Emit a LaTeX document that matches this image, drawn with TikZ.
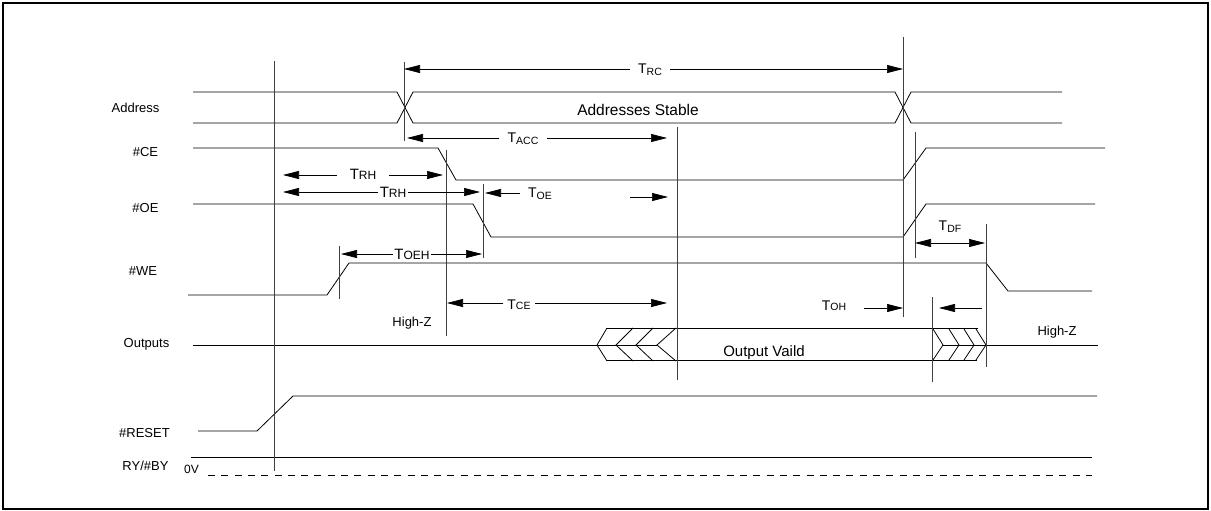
\documentclass[tikz,border=0pt]{standalone}
\usepackage{fontspec}
\setmainfont{Liberation Sans}
\usetikzlibrary{arrows.meta}
\newcommand{\tsb}[1]{{\fontsize{14}{16}\selectfont T}\raisebox{-2pt}{\fontsize{10.5}{12}\selectfont #1}}
\newcommand{\tsc}[1]{{\fontsize{14}{16}\selectfont T}{\fontsize{10.5}{12}\selectfont #1}}
\newcommand{\tbig}[1]{{\fontsize{15}{17}\selectfont T}{\fontsize{12}{14}\selectfont #1}}

\begin{document}
\begin{tikzpicture}[x=1pt, y=-1pt,
    sig/.style={line width=0.8pt},
    vline/.style={line width=0.8pt, black!75},
    dimarr/.style={line width=0.7pt, -{Triangle[length=16pt,width=8pt]}},
    dimboth/.style={line width=0.7pt, {Triangle[length=16pt,width=8pt]}-{Triangle[length=16pt,width=8pt]}},
    lbl/.style={font=\fontsize{13}{15}\selectfont, inner sep=0pt, anchor=base},
    tlbl/.style={font=\fontsize{13}{15}\selectfont, inner ysep=0pt, inner xsep=#1},
  ]
  \useasboundingbox (0,0) rectangle (1211,511);
  \draw[line width=2pt] (3,3) rectangle (1208,509);

  % signal names
  \node[lbl] (nAddr)  at (135.5,112) {Address};
  \node[lbl] (nCE)    at (145.5,156) {\#CE};
  \node[lbl] (nOE)    at (145.5,212) {\#OE};
  \node[lbl] (nWE)    at (143,275)   {\#WE};
  \node[lbl] (nOut)   at (146.5,347) {Outputs};
  \node[lbl] (nReset) at (144.5,437) {\#RESET};
  \node[lbl] (nRyBy)  at (145.5,470) {RY/\#BY};
  \node[lbl, font=\fontsize{12}{14}\selectfont] (nZero) at (191.5,473) {0V};

  % waveforms
  \draw[sig] (193,92) -- (397,92) -- (413,123) -- (895,123) -- (911,92) -- (1062,92);
  \draw[sig] (193,123) -- (397,123) -- (413,92) -- (895,92) -- (911,123) -- (1062,123);
  \draw[sig] (193,148) -- (438,148) -- (456,180) -- (903,180) -- (926,148) -- (1105,148);
  \draw[sig] (193,204) -- (473,204) -- (491,237) -- (903,237) -- (926,204) -- (1095,204);
  \draw[sig] (188,295) -- (327,295) -- (349,263) -- (986,263) -- (1008,291) -- (1092,291);
  \draw[sig] (193,345) -- (657,345);
  \draw[sig] (943,345) -- (1098,345);
  \draw[sig] (606,328) -- (978,328);
  \draw[sig] (607,360) -- (977,360);
  \foreach \x/\w in {597/10, 616/17, 636/17, 657/19}
    \draw[sig] (\x+\w,328) -- (\x,345) -- (\x+\w,361);
  \foreach \x in {943,959,974,986}
    \draw[sig] (\x-10,329) -- (\x,345) -- (\x-10,360);
  \draw[sig] (198,431) -- (257,431) -- (293,396) -- (1097,396);
  \draw[sig] (191,457) -- (1092,457);
  \draw[sig, dash pattern=on 7pt off 6.3pt] (208,475) -- (1092,475);

  \node[lbl, font=\fontsize{15.5}{18}\selectfont] (stable) at (638,115) {Addresses Stable};
  \node[lbl, font=\fontsize{15}{18}\selectfont] (valid) at (764,356) {Output Vaild};
  \node[lbl] (hiz1) at (412,326) {High-Z};
  \node[lbl] (hiz2) at (1057,335) {High-Z};

  % time marks
  \foreach \n/\x/\a/\b in {vA/274/61/471, vB/404/62/141, vC/446/150/336, vD/483/184/258,
      vE/339/246/299, vF/677/127/380, vG/903/37/317, vH/915/132/258, vI/932/297/382, vJ/986/224/367} {
    \coordinate (\n t) at (\x,\a);
    \coordinate (\n b) at (\x,\b);
    \draw[vline] (\n t) -- (\n b);
  }

  % timing parameters
  \coordinate (rcL) at (404,69);  \coordinate (rcR) at (903,69);
  \node[tlbl=8pt] (trc) at (650,70) {\tsb{RC}};
  \draw[dimarr] (trc.west |- rcL) -- (rcL);
  \draw[dimarr] (trc.east |- rcR) -- (rcR);

  \coordinate (accL) at (407,138); \coordinate (accR) at (667,138);
  \node[tlbl=8pt] (tacc) at (523,139) {\tsb{ACC}};
  \draw[dimarr] (tacc.west |- accL) -- (accL);
  \draw[dimarr] (tacc.east |- accR) -- (accR);

  \coordinate (rhaL) at (283,175); \coordinate (rhaR) at (443,175);
  \node[tlbl=13pt] (trha) at (363,174) {\tbig{RH}};
  \draw[dimarr] (trha.west |- rhaL) -- (rhaL);
  \draw[dimarr] (trha.east |- rhaR) -- (rhaR);

  \coordinate (rhbL) at (283,192); \coordinate (rhbR) at (480,192);
  \node[tlbl=1.5pt] (trhb) at (393,192) {\tbig{RH}};
  \draw[dimarr] (trhb.west |- rhbL) -- (rhbL);
  \draw[dimarr] (trhb.east |- rhbR) -- (rhbR);

  \coordinate (oeL) at (485,193);
  \node[tlbl=8pt] (toe) at (540,194) {\tsb{OE}};
  \draw[dimarr] (toe.west |- oeL) -- (oeL);
  \coordinate (oeA) at (630,197); \coordinate (oeB) at (668,197);
  \draw[dimarr] (oeA) -- (oeB);

  \coordinate (oehL) at (341,254); \coordinate (oehR) at (482,254);
  \node[tlbl=1pt] (toeh) at (412,254) {\tbig{OEH}};
  \draw[dimarr] (toeh.west |- oehL) -- (oehL);
  \draw[dimarr] (toeh.east |- oehR) -- (oehR);

  \coordinate (ceL) at (447,303); \coordinate (ceR) at (667,303);
  \node[tlbl=4pt] (tce) at (519,305) {\tsc{CE}};
  \draw[dimarr] (tce.west |- ceL) -- (ceL);
  \draw[dimarr] (tce.east |- ceR) -- (ceR);

  \node[tlbl=0pt] (toh) at (834,306) {\tsc{OH}};
  \coordinate (ohA) at (864,308); \coordinate (ohB) at (903,308);
  \draw[dimarr] (ohA) -- (ohB);
  \coordinate (dfA) at (982,308); \coordinate (dfB) at (939,308);
  \draw[dimarr] (dfA) -- (dfB);

  \node[tlbl=0pt] (tdf) at (950,227) {\tsb{DF}};
  \coordinate (dfL) at (915,243); \coordinate (dfR) at (985,243);
  \draw[dimboth] (dfL) -- (dfR);
\end{tikzpicture}
\end{document}
